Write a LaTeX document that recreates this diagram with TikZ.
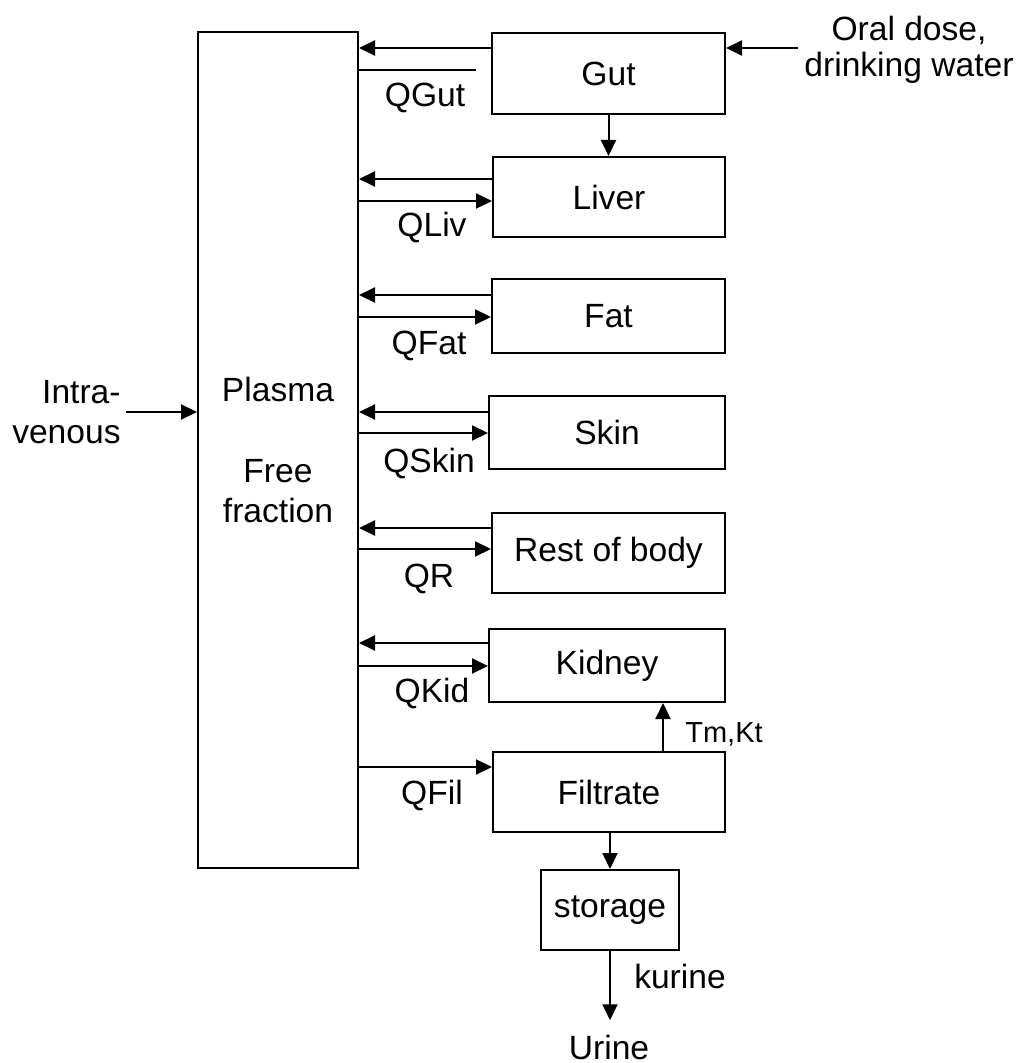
\documentclass[tikz,border=0pt]{standalone}
\usepackage{fontspec}
\setmainfont{Liberation Sans}
\usetikzlibrary{arrows.meta,positioning}

\begin{document}
\begin{tikzpicture}[
  x=0.5pt, y=-0.5pt,
  font=\fontsize{16.8}{20}\selectfont,
  box/.style={draw, line width=1pt, inner sep=0pt, minimum width=116.5pt,
              minimum height=40pt, align=center},
  lbl/.style={inner sep=0pt, align=center},
  ar/.style={-{Triangle[length=8pt,width=7.5pt]}, line width=1pt},
  ln/.style={line width=1pt},
]
\useasboundingbox (0,0) rectangle (1020,1063);

\node[box, minimum width=80pt, minimum height=418pt] (pla) at (278,450)
  {Plasma\\[20.5pt]Free\\fraction};

\node[box, minimum height=40.5pt] (gut) at (608.5,73.5) {Gut};
\node[box, minimum width=116pt] (liv) at (609,197) {Liver};
\node[box, minimum height=37pt] (fat) at (608.5,316) {Fat};
\node[box, minimum width=118pt, minimum height=36.5pt] (skin) at (607,432.5) {Skin};
\node[box] (rest) at (608.5,553) {Rest of body};
\node[box, minimum width=118pt, minimum height=36.5pt] (kid) at (607,665.5) {Kidney};
\node[box, minimum width=116pt] (fil) at (609,792) {Filtrate};
\node[box, minimum width=69pt, below=18pt of fil, xshift=0.5pt] (sto) {storage};

\node[lbl] (oral) at (909,50) {Oral dose,\\[-2pt]drinking water};
\node[lbl, align=right, anchor=east] (iv) at (121,412) {Intra-\\venous};

\node[lbl, anchor=base] (qgut) at (425,107) {QGut};
\node[lbl, anchor=base] (qliv) at (432,237) {QLiv};
\node[lbl, anchor=base] (qfat) at (429,355) {QFat};
\node[lbl, anchor=base] (qskin) at (429,472) {QSkin};
\node[lbl, anchor=base] (qr) at (429,587) {QR};
\node[lbl, anchor=base] (qkid) at (432,702) {QKid};
\node[lbl, anchor=base] (qfil) at (432,804) {QFil};
\node[lbl, anchor=base, font=\fontsize{14.5}{17}\selectfont] (tmkt) at (724,742) {Tm,Kt};
\node[lbl, anchor=base] (kur) at (680,988) {kurine};
\node[lbl, anchor=base] (uri) at (609,1059) {Urine};

\coordinate (ods) at (798,48);
\coordinate (ivs) at (126,412);

\draw[ar] (ods) -- (ods -| gut.east);
\draw[ar] (ivs) -- (ivs -| pla.west);

\draw[ar] ([yshift=12.75pt]gut.west) -- ([yshift=12.75pt]gut.west -| pla.east);
\draw[ln] ([yshift=1.75pt]gut.west -| pla.east) -- ++(117,0);
\draw[ar] (gut.south) -- (gut.south |- liv.north);

\draw[ar] ([yshift=9pt]liv.west) -- ([yshift=9pt]liv.west -| pla.east);
\draw[ar] ([yshift=-2pt]liv.west -| pla.east) -- ([yshift=-2pt]liv.west);

\draw[ar] ([yshift=10.5pt]fat.west) -- ([yshift=10.5pt]fat.west -| pla.east);
\draw[ar] ([yshift=-0.5pt]fat.west -| pla.east) -- ([yshift=-0.5pt]fat.west);

\draw[ar] ([yshift=10.25pt]skin.west) -- ([yshift=10.25pt]skin.west -| pla.east);
\draw[ar] ([yshift=-0.25pt]skin.west -| pla.east) -- ([yshift=-0.25pt]skin.west);

\draw[ar] ([yshift=12.5pt]rest.west) -- ([yshift=12.5pt]rest.west -| pla.east);
\draw[ar] ([yshift=2pt]rest.west -| pla.east) -- ([yshift=2pt]rest.west);

\draw[ar] ([yshift=11.25pt]kid.west) -- ([yshift=11.25pt]kid.west -| pla.east);
\draw[ar] ([yshift=-0.25pt]kid.west -| pla.east) -- ([yshift=-0.25pt]kid.west);

\draw[ar] ([yshift=12.5pt]fil.west -| pla.east) -- ([yshift=12.5pt]fil.west);
\draw[ar] ([xshift=27pt]fil.north) -- ([xshift=27pt]fil.north |- kid.south);
\draw[ar] (sto.north |- fil.south) -- (sto.north);
\draw[ar] (sto.south) -- ([yshift=7pt]sto.south |- uri.north);
\end{tikzpicture}
\end{document}
